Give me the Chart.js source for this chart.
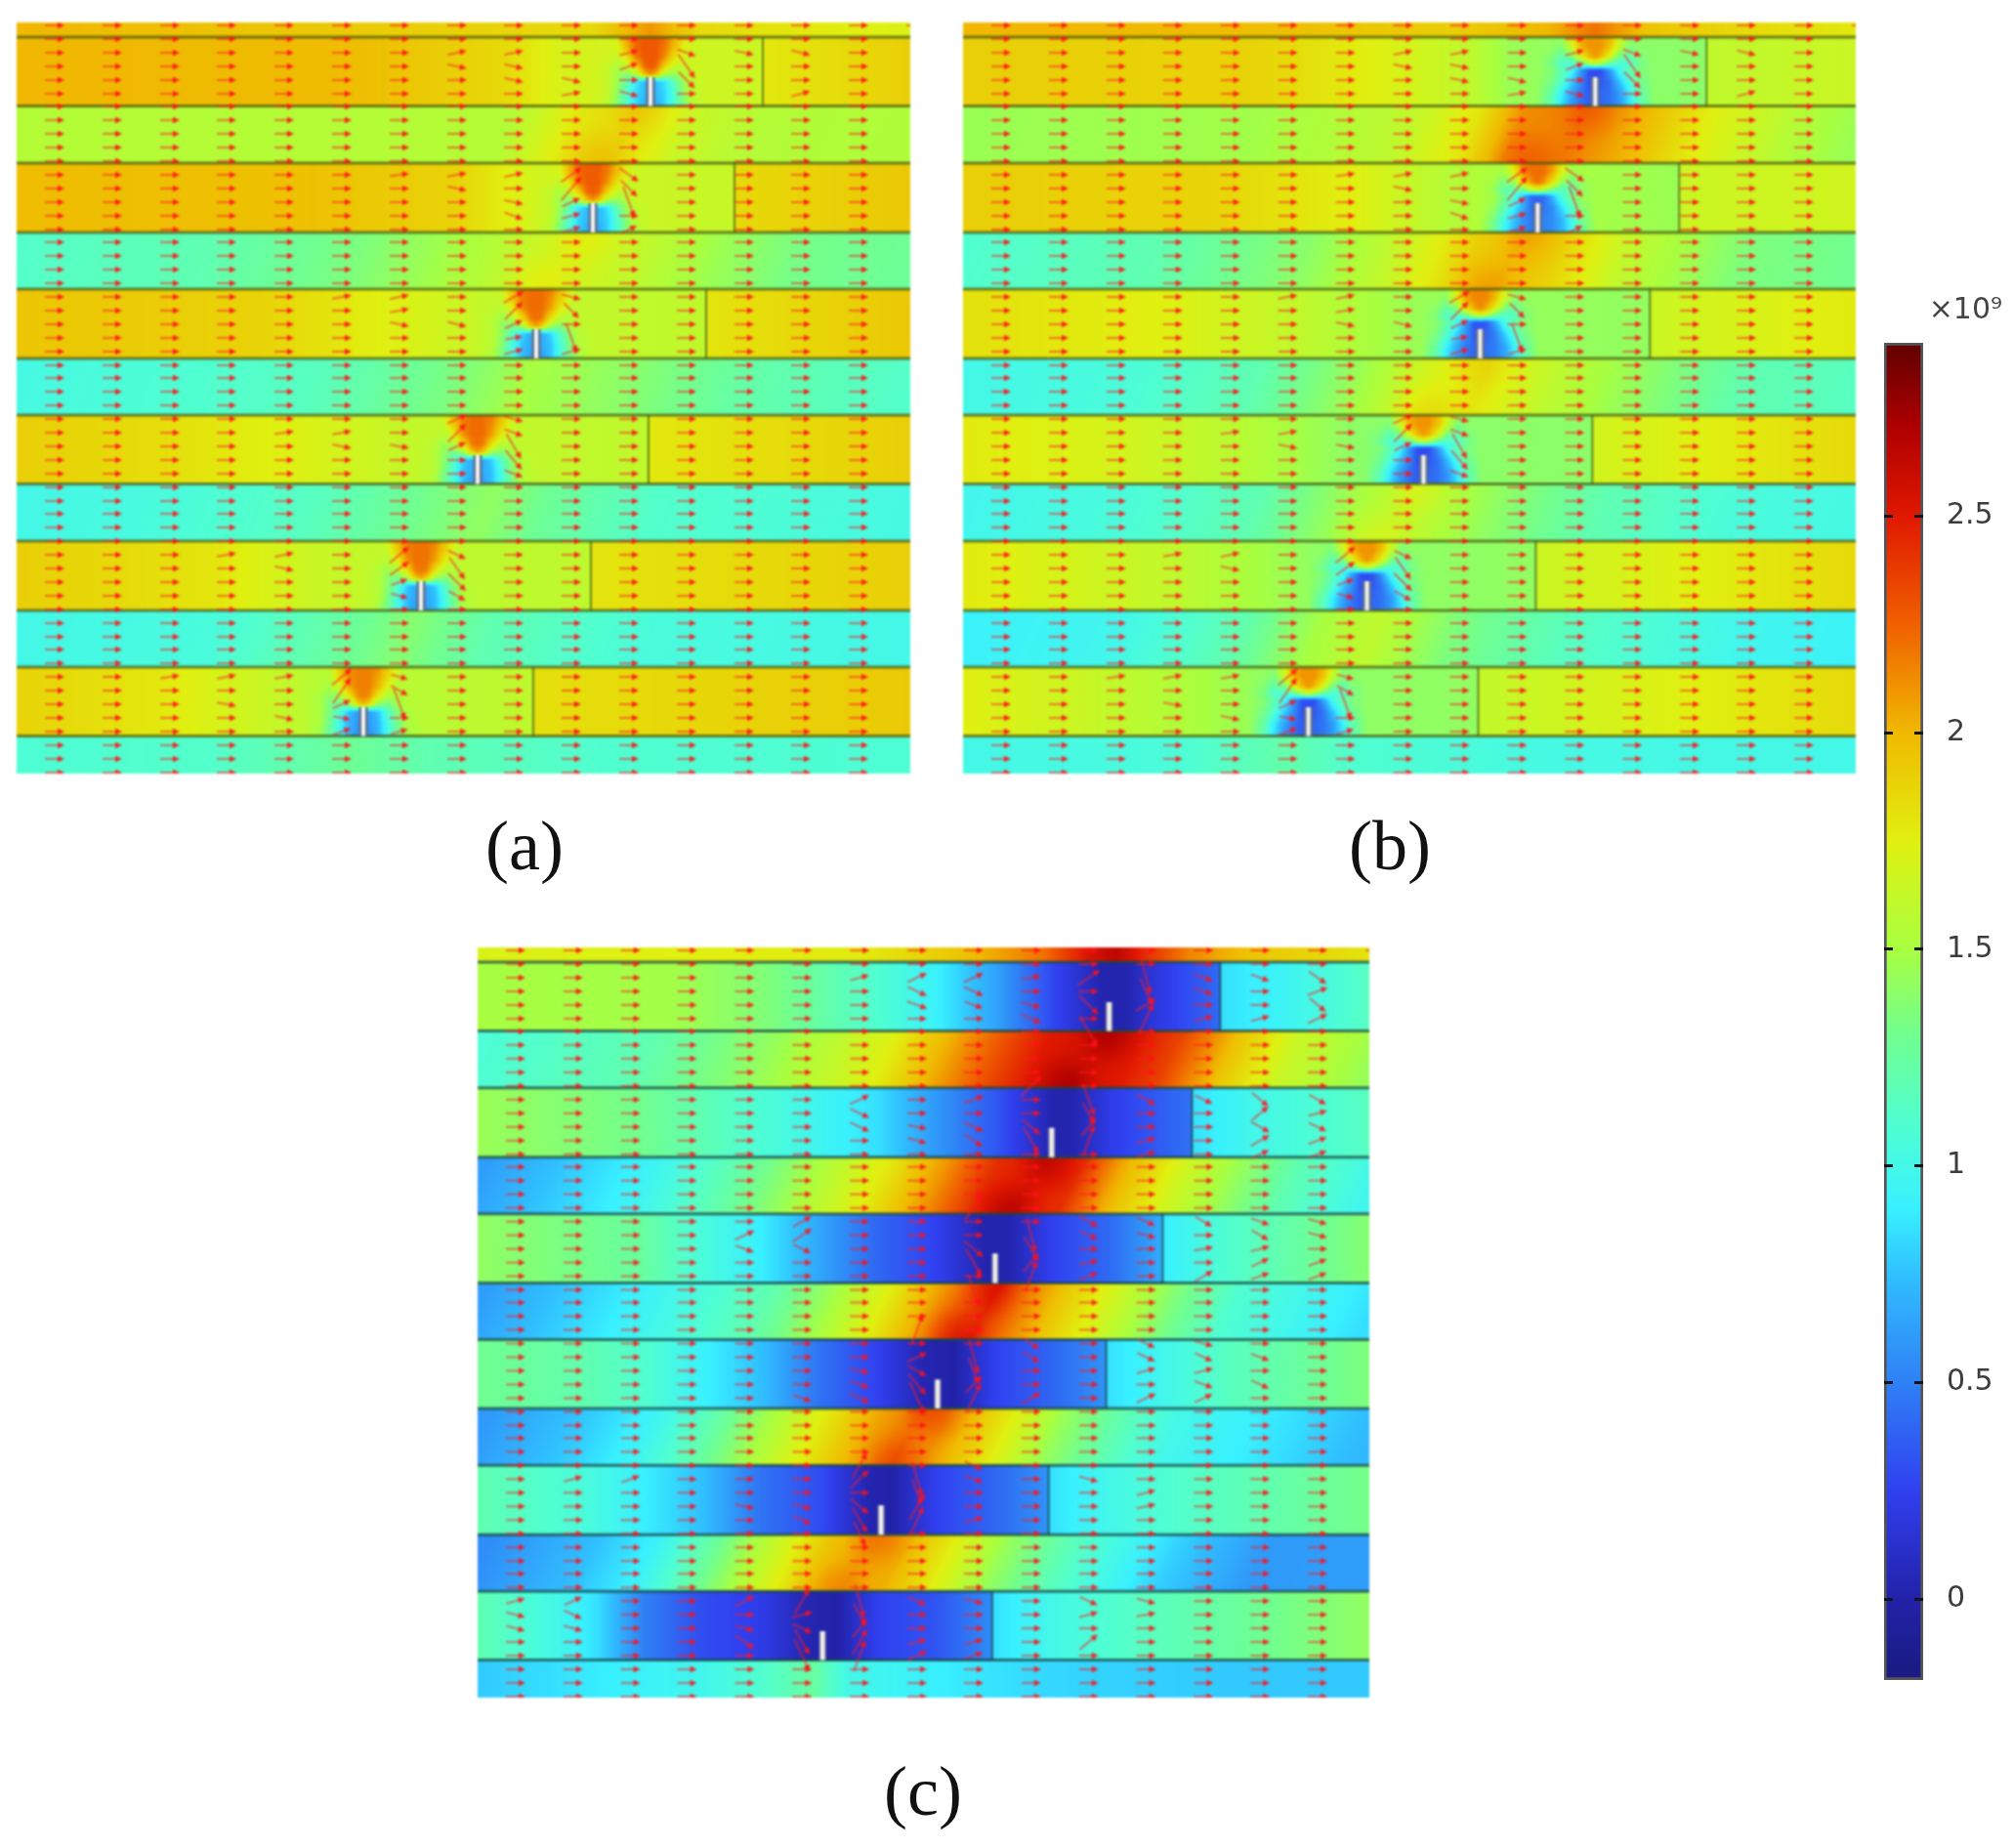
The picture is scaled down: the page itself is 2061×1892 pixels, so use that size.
<!DOCTYPE html>
<html>
<head>
<meta charset="utf-8">
<title>Field plots</title>
<script src="https://cdn.jsdelivr.net/npm/chart.js@4"></script>
<style>
  html, body { margin: 0; padding: 0; background: #fff; }
  body { position: relative; width: 2061px; height: 1892px; overflow: hidden; }
  canvas { position: absolute; }
  .field { filter: blur(1px); }
  .bar { filter: blur(0.5px); }
  .tag { position: absolute; transform: translate(-50%, -50%); font: 72px "Liberation Serif", serif; color: #111; filter: blur(0.4px); }
</style>
</head>
<body>
<canvas id="panelA" class="field" width="915" height="769" style="left:17px;top:23px"></canvas>
<canvas id="panelB" class="field" width="914" height="769" style="left:986px;top:23px"></canvas>
<canvas id="panelC" class="field" width="913" height="768" style="left:489px;top:970px"></canvas>
<canvas id="colorbar" class="bar" width="121" height="1422" style="left:1929px;top:300px"></canvas>
<div class="tag" style="left:537px;top:866px">(a)</div>
<div class="tag" style="left:1423px;top:866px">(b)</div>
<div class="tag" style="left:945px;top:1834px">(c)</div>
<script>
// colour scale
const scaleMin = -0.187;
const scaleMax = 2.9;
const scaleTicks = [0, 0.5, 1, 1.5, 2, 2.5];
const cmapValues = [-0.187, 0, 0.25, 0.5, 0.75, 0.9, 1.1, 1.3, 1.5, 1.75, 2, 2.25, 2.5, 2.7, 2.9];
const cmapColors = ['#1a1a80', '#2222a8', '#3040f0', '#2f80f5', '#30c0ff', '#38f0ff', '#50ffd0', '#70ff90',
                    '#a8ff40', '#e0f010', '#f0b800', '#f06000', '#e01800', '#b00000', '#600000'];

// geometry shared by the three panels
const bandEdges = [23, 38, 108.5, 167, 238, 296, 367, 425, 495.5, 554, 625, 683, 753.5, 792];
const arrowCols = [39, 98, 157, 215, 274, 333, 392, 451, 509, 568, 627, 686, 745, 803, 862, 921];
const arrowRows = [26, 40, 54, 68, 82, 96, 109, 123, 137, 151, 165, 179, 193, 207, 221, 235, 248, 262, 276, 290,
                   304, 318, 332, 346, 360, 374, 387, 401, 415, 429, 443, 457, 471, 485, 499, 513, 526, 540,
                   554, 568, 582, 596, 610, 624, 638, 652, 665, 679, 693, 707, 721, 735, 749, 763, 777, 791];

const slitsA = [649, 590, 532, 472, 414, 355];
const slitsB = [648, 589, 530, 472, 414, 354];
const slitsC = [648, 589, 531, 472, 414, 354];
const jointsA = [764, 735, 706, 647, 588, 529];
const jointsB = [762, 734, 704, 645, 587, 528];
const jointsC = [762, 733, 703, 645, 586, 528];

// field in each band as [x, value] stops, value in units of 1e9
const fieldA = [
  [[0,2.0],[300,1.93],[590,1.85],[649,2.1],[700,1.85],[915,1.72]],
  [[0,2.0],[350,1.98],[500,1.85],[560,1.7],[764,1.65],[765,1.78],[915,1.9]],
  [[0,1.55],[500,1.55],[565,1.78],[620,1.88],[680,1.65],[760,1.55],[915,1.53]],
  [[0,1.98],[300,1.96],[450,1.88],[530,1.68],[735,1.63],[736,1.85],[915,1.93]],
  [[0,1.12],[200,1.2],[350,1.35],[480,1.55],[560,1.72],[640,1.6],[720,1.45],[800,1.32],[915,1.28]],
  [[0,1.94],[250,1.88],[400,1.72],[480,1.62],[706,1.6],[707,1.8],[915,1.93]],
  [[0,1.02],[300,1.15],[450,1.35],[520,1.5],[620,1.4],[750,1.22],[915,1.12]],
  [[0,1.9],[150,1.83],[300,1.72],[400,1.62],[647,1.6],[648,1.78],[915,1.9]],
  [[0,1.0],[150,1.05],[300,1.15],[440,1.35],[480,1.42],[540,1.28],[650,1.12],[915,1.02]],
  [[0,1.9],[200,1.8],[300,1.65],[400,1.6],[588,1.6],[589,1.8],[915,1.9]],
  [[0,1.0],[200,1.05],[330,1.25],[400,1.38],[480,1.2],[650,1.05],[915,1.0]],
  [[0,1.88],[150,1.78],[250,1.65],[320,1.55],[529,1.6],[530,1.82],[915,1.92]],
  [[0,1.08],[200,1.12],[345,1.28],[420,1.2],[600,1.1],[915,1.08]]
];
const fieldB = [
  [[0,2.0],[300,1.98],[500,1.9],[600,2.0],[648,2.2],[700,1.95],[800,1.85],[915,1.78]],
  [[0,1.9],[300,1.88],[420,1.75],[520,1.6],[560,1.45],[648,1.4],[762,1.4],[763,1.6],[915,1.65]],
  [[0,1.45],[300,1.48],[450,1.6],[520,1.8],[565,2.12],[625,2.18],[690,2.0],[760,1.75],[850,1.55],[915,1.45]],
  [[0,1.9],[250,1.88],[400,1.75],[500,1.55],[734,1.45],[735,1.65],[915,1.68]],
  [[0,1.1],[200,1.2],[350,1.4],[450,1.65],[520,1.9],[560,2.0],[610,1.88],[680,1.6],[800,1.35],[915,1.3]],
  [[0,1.82],[200,1.75],[350,1.6],[460,1.45],[704,1.42],[705,1.65],[915,1.78]],
  [[0,1.0],[150,1.05],[300,1.2],[400,1.45],[480,1.72],[530,1.8],[600,1.6],[700,1.4],[800,1.2],[915,1.15]],
  [[0,1.78],[150,1.7],[300,1.55],[400,1.4],[645,1.4],[646,1.68],[915,1.85]],
  [[0,0.98],[150,1.05],[300,1.2],[400,1.5],[450,1.65],[540,1.42],[650,1.2],[800,1.05],[915,1.02]],
  [[0,1.78],[200,1.62],[300,1.5],[370,1.4],[587,1.42],[588,1.65],[915,1.85]],
  [[0,0.92],[150,0.98],[280,1.2],[360,1.5],[420,1.6],[500,1.35],[620,1.15],[800,0.98],[915,0.93]],
  [[0,1.75],[120,1.65],[250,1.5],[320,1.4],[528,1.42],[529,1.62],[915,1.85]],
  [[0,1.0],[200,1.05],[330,1.22],[400,1.1],[600,1.02],[915,1.0]]
];
const fieldC = [
  [[0,1.72],[400,1.78],[500,1.95],[580,2.2],[630,2.55],[655,2.65],[690,2.4],[730,2.15],[790,1.95],[915,1.8]],
  [[0,1.5],[200,1.48],[300,1.35],[410,1.1],[470,0.92],[530,0.65],[590,0.28],[640,0.02],[665,0.02],[700,0.2],[762,0.42],[763,0.85],[830,0.95],[915,1.15]],
  [[0,1.08],[170,1.2],[290,1.42],[410,1.72],[470,2.0],[530,2.3],[575,2.5],[625,2.56],[670,2.5],[710,2.35],[770,1.95],[830,1.65],[915,1.45]],
  [[0,1.45],[170,1.3],[290,1.08],[410,0.85],[470,0.6],[530,0.35],[590,0.02],[610,0.02],[650,0.22],[733,0.45],[734,0.85],[800,1.0],[915,1.15]],
  [[0,0.62],[170,0.95],[290,1.32],[410,1.78],[470,2.1],[520,2.42],[565,2.52],[610,2.42],[650,2.05],[710,1.7],[770,1.45],[830,1.2],[915,0.98]],
  [[0,1.42],[170,1.25],[231,1.05],[291,0.9],[351,0.65],[411,0.4],[471,0.25],[520,0.02],[545,0.02],[590,0.25],[650,0.42],[703,0.68],[704,0.9],[770,1.1],[830,1.22],[915,1.38]],
  [[0,0.62],[171,0.95],[291,1.2],[351,1.45],[411,1.75],[460,2.05],[500,2.32],[521,2.42],[550,2.2],[590,1.95],[650,1.65],[710,1.35],[770,1.1],[830,1.0],[915,0.85]],
  [[0,1.3],[111,1.2],[171,1.1],[231,0.92],[291,0.75],[351,0.45],[411,0.25],[458,0.03],[490,0.0],[531,0.25],[590,0.4],[645,0.58],[646,0.85],[710,1.0],[770,1.15],[915,1.35]],
  [[0,0.6],[111,0.8],[171,0.95],[231,1.2],[291,1.5],[351,1.8],[400,2.05],[440,2.2],[470,2.12],[531,1.8],[590,1.45],[650,1.2],[710,1.0],[830,0.85],[915,0.72]],
  [[0,1.2],[111,1.05],[171,0.9],[231,0.75],[291,0.45],[351,0.3],[400,0.03],[425,0.0],[471,0.25],[531,0.4],[586,0.58],[587,0.85],[650,1.0],[710,1.1],[915,1.32]],
  [[0,0.55],[111,0.75],[171,0.92],[231,1.25],[291,1.6],[351,1.95],[390,2.08],[430,2.02],[471,1.8],[531,1.45],[590,1.2],[650,1.0],[710,0.8],[800,0.6],[915,0.62]],
  [[0,1.2],[80,1.0],[123,0.85],[171,0.5],[231,0.3],[291,0.22],[339,0.03],[369,0.0],[411,0.25],[471,0.33],[528,0.55],[529,0.85],[590,1.0],[650,1.1],[770,1.25],[915,1.42]],
  [[0,0.78],[111,0.88],[231,0.98],[291,1.1],[345,1.25],[380,1.0],[471,0.9],[590,0.82],[770,0.78],[915,0.78]]
];
// sideways drift of the band's stops between its top and bottom edge
const leanA = [0, 0, 12, 0, 12, 0, 12, 0, 12, 0, 12, 0, 0];
const leanB = [0, 0, 12, 0, 12, 0, 12, 0, 12, 0, 12, 0, 0];
const leanC = [0, 0, 15, 0, 15, 0, 15, 0, 15, 0, 15, 0, 0];

// hot spots at the band edges next to a slit: [band, x, y, extra value]
const spotsA = [[2,647,110,0.08],[2,590,165,0.1],[4,587,240,0.06],[4,530,295,0.08]];
const spotsB = [[2,647,110,0.1],[2,577,165,0.1],[4,587,240,0.08],[4,530,295,0.1],[6,530,369,0.08],[6,472,424,0.1],[8,472,497,0.06],[8,414,553,0.08]];
const spotsC = [[2,648,110,0.14],[2,603,165,0.14],[4,589,239,0.12],[4,542,295,0.14],[6,530,368,0.12],[6,486,423,0.14],[8,472,496,0.14],[8,426,553,0.12],[10,414,625,0.12],[10,363,682,0.08]];

// correction around each slit: columns are x from the slit, rows are y from the top of the band
const plumeCols = [-60, -45, -35, -25, -15, -6, 0, 6, 15, 25, 35, 45, 60];
const plumeRowsA = [0, 10, 20, 30, 38, 46, 58, 70];
const plumeA = [
  [0, 0, 0.05, 0.35, 0.55, 0.6, 0.6, 0.6, 0.55, 0.35, 0.1, 0, 0],
  [0, 0, 0, 0.3, 0.55, 0.6, 0.6, 0.6, 0.5, 0.3, 0.05, 0, 0],
  [0, 0, -0.05, 0.1, 0.5, 0.6, 0.6, 0.6, 0.45, 0.15, 0, 0, 0],
  [0, -0.05, -0.15, -0.1, 0.2, 0.55, 0.6, 0.55, 0.2, -0.05, -0.05, 0, 0],
  [0, -0.05, -0.2, -0.3, -0.15, 0.3, 0.45, 0.3, -0.15, -0.25, -0.1, 0, 0],
  [0, -0.05, -0.2, -0.45, -0.8, -0.95, -0.95, -0.95, -0.8, -0.45, -0.2, -0.05, 0],
  [0, -0.05, -0.25, -0.55, -0.85, -0.95, -0.95, -0.95, -0.85, -0.55, -0.25, -0.05, 0],
  [0, -0.1, -0.3, -0.55, -0.85, -1, -1, -1, -0.85, -0.55, -0.3, -0.1, 0]
];
const plumeRowsB = [0, 10, 20, 28, 34, 46, 58, 70];
const plumeB = [
  [0, 0, 0, 0.3, 0.65, 0.7, 0.7, 0.7, 0.6, 0.3, 0, 0, 0],
  [0, 0, -0.05, 0.2, 0.6, 0.7, 0.7, 0.7, 0.55, 0.2, -0.05, 0, 0],
  [0, -0.05, -0.2, -0.1, 0.3, 0.6, 0.7, 0.6, 0.3, -0.1, -0.2, -0.05, 0],
  [0, -0.1, -0.3, -0.35, -0.25, 0, 0.1, 0, -0.25, -0.35, -0.3, -0.1, 0],
  [0, -0.05, -0.2, -0.4, -0.8, -1.1, -1.1, -1.1, -0.8, -0.4, -0.2, -0.05, 0],
  [0, -0.1, -0.3, -0.6, -0.85, -1.1, -1.15, -1.05, -0.95, -0.65, -0.35, -0.12, 0],
  [0, -0.2, -0.5, -0.75, -0.95, -1.05, -1.1, -1, -0.95, -0.8, -0.5, -0.2, 0],
  [0, -0.25, -0.55, -0.8, -0.95, -1.05, -1.1, -1, -0.95, -0.8, -0.55, -0.25, 0]
];

// arrows that are not flat: [column, row, degrees clockwise, length]
const bentAB = [
  [10,2,-15,20],[10,3,-20,20],[10,5,15,20],[11,2,20,20],[11,3,55,30],[11,4,45,24],[7,2,-12,20],[8,2,-12,20],[7,3,12,20],[8,3,12,20],[8,4,12,20],[9,4,14,20],[9,5,-10,20],[12,2,12,20],[13,2,14,20],[13,5,-15,20],
  [9,11,-35,26],[9,12,-50,32],[9,13,-25,20],[9,14,-15,20],[9,15,-15,20],[10,11,35,24],[10,12,45,24],[10,13,70,34],[10,15,-25,18],[6,11,-8,20],[7,11,-10,20],[8,11,-12,20],[7,12,12,20],[8,13,12,20],[8,14,20,20],
  [8,20,-30,24],[8,21,-45,26],[8,22,-25,20],[8,23,-10,18],[8,24,-15,20],[9,20,15,20],[9,21,45,22],[9,23,70,32],[9,24,-15,20],[5,20,-10,20],[6,20,-12,20],[6,21,-10,20],[6,22,12,20],[7,22,14,20],
  [7,29,-25,22],[7,30,-45,26],[7,31,-25,20],[8,29,15,20],[8,30,20,20],[8,31,60,30],[8,32,50,26],[8,33,20,20],[5,30,-10,20],[4,30,-8,20],[5,31,12,20],[6,31,10,20],
  [6,39,-40,26],[6,40,-35,24],[6,41,-20,18],[6,42,15,18],[7,39,25,20],[7,40,55,28],[7,41,45,26],[7,42,30,20],[3,39,-10,20],[4,39,-12,20],[4,40,12,20],
  [5,48,-40,26],[5,49,-55,32],[5,50,-25,20],[5,51,10,18],[5,52,-20,20],[6,48,15,18],[6,49,30,20],[6,50,70,34],[6,52,-15,18],[2,48,-8,20],[3,48,-10,20],[4,48,-10,20],[3,50,10,20],[4,51,12,20]
];
const bentC = [
  [10,2,-35,28],[10,4,45,28],[10,6,60,36],[9,2,-10,20],[9,4,15,20],[9,5,25,22],[8,2,-25,22],[8,3,25,22],[8,4,20,20],[7,2,-25,22],[7,3,25,22],[7,4,20,22],[6,2,-15,20],[11,2,75,36],[11,3,65,30],[11,4,-30,24],[11,5,-65,34],[12,2,20,20],[12,3,20,20],[12,5,-15,20],[13,2,20,20],[13,5,-15,20],[14,2,35,22],[14,3,-20,22],[14,4,40,22],[14,5,-25,22],
  [9,10,-45,30],[9,13,40,24],[9,14,60,30],[10,11,70,36],[10,12,60,24],[10,13,-50,24],[10,14,-70,34],[8,11,-20,22],[8,13,25,22],[8,14,35,22],[7,13,10,20],[7,14,15,20],[6,11,-25,22],[6,12,25,22],[6,13,25,22],[11,11,30,22],[11,14,-15,20],[11,15,-15,20],[12,11,25,20],[13,11,40,22],[13,12,-40,22],[13,13,30,22],[13,14,-30,22],[13,15,-25,20],[14,11,30,20],[14,12,-15,20],[14,13,25,20],[14,14,-20,20],[14,15,-20,20],
  [8,19,-55,30],[8,22,40,26],[8,23,60,32],[8,25,70,34],[9,21,75,36],[9,22,60,28],[9,23,-50,24],[9,24,-70,34],[10,20,30,22],[10,21,25,20],[10,23,-10,20],[10,24,-20,20],[11,20,25,20],[11,21,15,20],[12,20,30,20],[12,22,-10,20],[12,24,-30,22],[13,20,20,20],[13,21,30,20],[13,22,-15,20],[13,23,-25,20],[13,24,-20,20],[14,20,15,20],[14,21,15,20],[14,23,-20,20],[14,24,-20,20],[5,20,-30,22],[5,21,-35,24],[5,22,25,20],[4,21,-25,22],[4,22,20,20],
  [7,28,-70,34],[7,30,-25,22],[7,31,30,22],[7,32,50,28],[7,33,65,36],[8,30,75,36],[8,31,70,28],[8,32,-45,24],[8,33,-65,34],[9,29,35,20],[9,30,30,20],[9,33,-30,22],[6,31,10,20],[6,32,20,20],[6,33,25,22],[5,33,20,20],[11,29,25,20],[11,30,25,20],[11,31,-15,20],[11,33,-25,22],[12,29,15,20],[12,30,25,20],[12,31,-15,20],[12,32,20,20],[12,33,-25,20],[13,30,20,20],[13,32,25,20],
  [6,38,-60,30],[6,39,-45,26],[6,41,40,24],[6,42,60,30],[6,43,65,28],[7,39,75,36],[7,40,70,28],[7,41,-60,32],[7,42,-65,30],[8,38,25,20],[8,39,20,20],[8,42,-15,20],[5,41,15,20],[5,42,25,20],[2,39,-20,20],[1,39,-15,20],[4,41,12,20],[11,40,-15,20],[11,41,-12,20],[10,39,15,20],
  [5,48,-60,30],[5,49,-15,22],[5,50,25,22],[5,51,60,30],[5,52,65,36],[6,48,75,36],[6,49,60,26],[6,50,-50,24],[6,51,-60,30],[6,52,-70,34],[7,48,25,20],[7,51,-15,20],[7,52,-25,22],[8,48,15,20],[8,51,-15,20],[8,52,-20,20],[4,48,-30,22],[4,50,15,20],[4,51,35,24],[0,48,-15,20],[0,49,15,20],[0,50,15,20],[1,48,-25,20],[1,49,25,20],[1,50,15,20],[10,48,25,20],[10,49,-15,20],[10,51,-40,24],[11,48,15,20],[11,49,-10,20]
];

function hexRgb(h) {
  return [parseInt(h.slice(1, 3), 16), parseInt(h.slice(3, 5), 16), parseInt(h.slice(5, 7), 16)];
}

// lookup table of the colour scale
const lut = [];
for (let i = 0; i <= 1023; i++) {
  const v = scaleMin + (scaleMax - scaleMin) * i / 1023;
  let k = 0;
  while (k < cmapValues.length - 2 && v > cmapValues[k + 1]) k++;
  const t = (v - cmapValues[k]) / (cmapValues[k + 1] - cmapValues[k]);
  const a = hexRgb(cmapColors[k]), b = hexRgb(cmapColors[k + 1]);
  lut.push([a[0] + (b[0] - a[0]) * t, a[1] + (b[1] - a[1]) * t, a[2] + (b[2] - a[2]) * t]);
}

function stopValue(stops, x) {
  if (x <= stops[0][0]) return stops[0][1];
  for (let i = 1; i < stops.length; i++) {
    if (x <= stops[i][0]) {
      const a = stops[i - 1], b = stops[i];
      return a[1] + (b[1] - a[1]) * (x - a[0]) / (b[0] - a[0]);
    }
  }
  return stops[stops.length - 1][1];
}

function plumeValue(table, rows, dx, dy) {
  if (dx <= plumeCols[0] || dx >= plumeCols[plumeCols.length - 1]) return 0;
  let c = 0;
  while (dx > plumeCols[c + 1]) c++;
  let r = 0;
  while (r < rows.length - 2 && dy > rows[r + 1]) r++;
  const tx = (dx - plumeCols[c]) / (plumeCols[c + 1] - plumeCols[c]);
  const ty = Math.min(1, Math.max(0, (dy - rows[r]) / (rows[r + 1] - rows[r])));
  const top = table[r][c] + (table[r][c + 1] - table[r][c]) * tx;
  const bot = table[r + 1][c] + (table[r + 1][c + 1] - table[r + 1][c]) * tx;
  return top + (bot - top) * ty;
}

function spotValue(spots, b, x, y) {
  let sum = 0;
  spots.forEach(function (s) {
    if (s[0] !== b) return;
    const d = Math.hypot(x - s[1], y - s[2]);
    if (d < 45) sum += s[3] * (0.5 + 0.5 * Math.cos(Math.PI * d / 45));
  });
  return sum;
}

// paints the cells of a panel under its datasets, going through the chart's scales
function shadePlugin(field, lean, spots, slits, plume, plumeRows) {
  let image = null;
  return {
    id: 'shade',
    beforeDatasetsDraw(chart) {
      const area = chart.chartArea, sx = chart.scales.x, sy = chart.scales.y;
      const w = Math.round(area.width), h = Math.round(area.height);
      if (!image) {
        image = chart.ctx.createImageData(w, h);
        for (let py = 0; py < h; py++) {
          const y = sy.getValueForPixel(area.top + py + 0.5);
          let b = 0;
          while (b < field.length - 1 && y > bandEdges[b + 1]) b++;
          const t = (y - bandEdges[b]) / (bandEdges[b + 1] - bandEdges[b]);
          const shift = lean[b] * (1 - 2 * t);
          for (let px = 0; px < w; px++) {
            const x = sx.getValueForPixel(area.left + px + 0.5);
            let v = stopValue(field[b], x - shift) + spotValue(spots, b, x, y);
            if (plume && b % 2 === 1) {
              v += plumeValue(plume, plumeRows, x - slits[(b - 1) / 2], y - bandEdges[b]);
            }
            const idx = Math.max(0, Math.min(1023, Math.round((v - scaleMin) / (scaleMax - scaleMin) * 1023)));
            const c = lut[idx], o = (py * w + px) * 4;
            image.data[o] = c[0];
            image.data[o + 1] = c[1];
            image.data[o + 2] = c[2];
            image.data[o + 3] = 255;
          }
        }
      }
      chart.ctx.putImageData(image, Math.round(area.left), Math.round(area.top));
    }
  };
}

const arrowImages = {};
function arrowImage(len) {
  if (arrowImages[len]) return arrowImages[len];
  const c = document.createElement('canvas');
  c.width = len + 2;
  c.height = 10;
  const g = c.getContext('2d');
  g.strokeStyle = 'rgba(255,25,35,0.72)';
  g.fillStyle = 'rgba(255,15,25,0.9)';
  g.lineWidth = 1.6;
  g.beginPath();
  g.moveTo(1, 5);
  g.lineTo(len - 4, 5);
  g.stroke();
  g.beginPath();
  g.moveTo(len + 1, 5);
  g.lineTo(len - 6, 1.8);
  g.lineTo(len - 6, 8.2);
  g.closePath();
  g.fill();
  arrowImages[len] = c;
  return c;
}

function arrowPoints(bent) {
  const special = {};
  bent.forEach(function (b) { special[b[0] + '_' + b[1]] = b; });
  const pts = [];
  arrowCols.forEach(function (x, c) {
    arrowRows.forEach(function (y, r) {
      const b = special[c + '_' + r];
      pts.push({ x: x, y: y, ang: b ? b[2] : 0, len: b ? b[3] : 20 });
    });
  });
  return pts;
}

function edgeLines() {
  const pts = [];
  bandEdges.slice(1, -1).forEach(function (y) {
    pts.push({ x: 0, y: y }, { x: 915, y: y }, { x: null, y: null });
  });
  return pts;
}

function jointLines(joints) {
  const pts = [];
  joints.forEach(function (x, i) {
    pts.push({ x: x, y: bandEdges[2 * i + 1] }, { x: x, y: bandEdges[2 * i + 2] }, { x: null, y: null });
  });
  return pts;
}

function slitLines(slits) {
  const pts = [];
  slits.forEach(function (x, i) {
    pts.push({ x: x, y: bandEdges[2 * i + 1] + 41 }, { x: x, y: bandEdges[2 * i + 2] }, { x: null, y: null });
  });
  return pts;
}

function lineSet(data, color, width, order) {
  return { type: 'scatter', data: data, showLine: true, spanGaps: false, pointRadius: 0,
           borderColor: color, borderWidth: width, order: order };
}

function drawPanel(id, field, lean, spots, slits, joints, bent, plume, plumeRows, look) {
  new Chart(document.getElementById(id), {
    type: 'scatter',
    data: {
      datasets: [
        { data: arrowPoints(bent), order: 0, pointRadius: 5,
          pointStyle: function (ctx) { return ctx.raw ? arrowImage(ctx.raw.len) : 'circle'; },
          rotation: function (ctx) { return ctx.raw ? ctx.raw.ang : 0; } },
        lineSet(slitLines(slits), '#f4f4f4', look.white, 1),
        lineSet(slitLines(slits), look.slitEdge, look.grey, 2),
        lineSet(jointLines(joints), look.line, 2, 3),
        lineSet(edgeLines(), look.line, 3, 4)
      ]
    },
    options: {
      responsive: false,
      animation: false,
      events: [],
      layout: { padding: 0, autoPadding: false },
      plugins: { legend: { display: false }, tooltip: { enabled: false } },
      scales: {
        x: { type: 'linear', display: false, min: 0, max: 915 },
        y: { type: 'linear', display: false, min: bandEdges[0], max: bandEdges[bandEdges.length - 1], reverse: true }
      }
    },
    plugins: [shadePlugin(field, lean, spots, slits, plume, plumeRows)]
  });
}

const lookAB = { line: 'rgba(70,85,20,0.72)', slitEdge: '#5f7088', white: 4, grey: 9 };
const lookC = { line: 'rgba(25,70,70,0.75)', slitEdge: '#a8a8b0', white: 3.5, grey: 6.5 };

drawPanel('panelA', fieldA, leanA, spotsA, slitsA, jointsA, bentAB, plumeA, plumeRowsA, lookAB);
drawPanel('panelB', fieldB, leanB, spotsB, slitsB, jointsB, bentAB, plumeB, plumeRowsB, lookAB);
drawPanel('panelC', fieldC, leanC, spotsC, slitsC, jointsC, bentC, null, null, lookC);

new Chart(document.getElementById('colorbar'), {
  type: 'bar',
  data: {
    labels: [''],
    datasets: [{
      data: [[scaleMin, scaleMax]],
      barPercentage: 1,
      categoryPercentage: 1,
      borderWidth: 3,
      borderSkipped: false,
      borderColor: 'rgba(55,55,60,0.85)',
      backgroundColor: function (ctx) {
        const chart = ctx.chart;
        if (!chart.chartArea) return '#888';
        const y = chart.scales.y;
        const g = chart.ctx.createLinearGradient(0, y.getPixelForValue(scaleMin), 0, y.getPixelForValue(scaleMax));
        cmapValues.forEach(function (v, i) {
          g.addColorStop((v - scaleMin) / (scaleMax - scaleMin), cmapColors[i]);
        });
        return g;
      }
    }]
  },
  options: {
    responsive: false,
    animation: false,
    events: [],
    layout: { padding: { left: 0, right: 0, top: 0, bottom: 2 }, autoPadding: false },
    plugins: {
      legend: { display: false },
      tooltip: { enabled: false },
      title: { display: true, text: '×10⁹', align: 'end', color: '#444',
               font: { family: 'DejaVu Sans', size: 30, weight: 'normal', lineHeight: 1.2 },
               padding: { top: 0, bottom: 15 } }
    },
    scales: {
      x: { display: false },
      y: {
        position: 'right',
        min: scaleMin,
        max: scaleMax,
        afterFit: function (s) { s.width = 81; s.paddingTop = 0; s.paddingBottom = 0; },
        afterBuildTicks: function (s) { s.ticks = scaleTicks.map(function (v) { return { value: v }; }); },
        grid: { z: 1, color: '#14141c', lineWidth: 3, drawTicks: false },
        border: { display: false, dash: [9, 22, 9] },
        ticks: {
          padding: 24,
          color: '#3c3c3c',
          font: { family: 'DejaVu Sans', size: 30 },
          callback: function (v) { return String(v); }
        }
      }
    }
  }
});
</script>
</body>
</html>
